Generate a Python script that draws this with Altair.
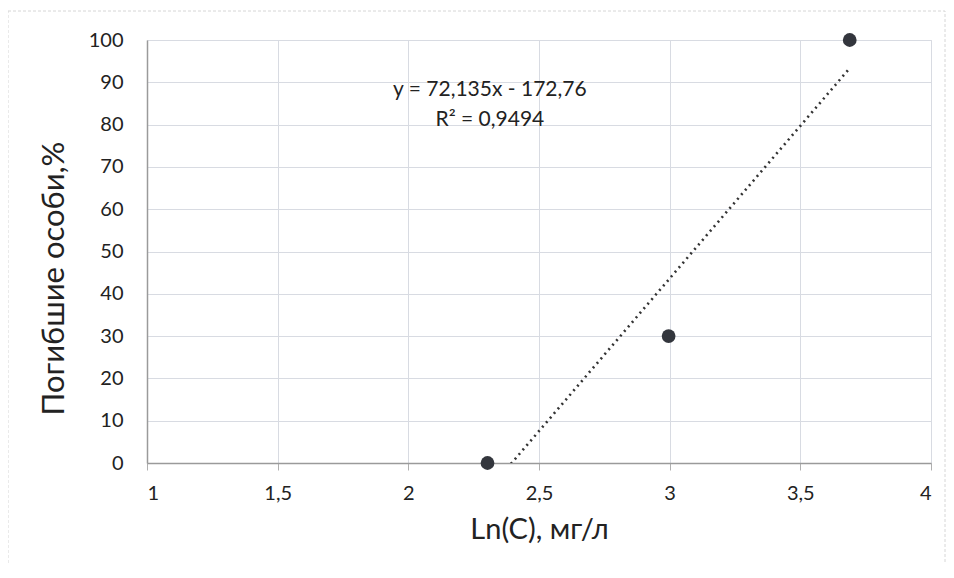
import altair as alt
import pandas as pd

# data
ln_c = [2.303, 2.996, 3.689]
dead_pct = [0, 30, 100]
x_ticks = [1, 1.5, 2, 2.5, 3, 3.5, 4]
y_ticks = [0, 10, 20, 30, 40, 50, 60, 70, 80, 90, 100]
eq_lines = ["y = 72,135x - 172,76", "R² = 0,9494"]
eq_x = [2.312, 2.312]
eq_y = [88.2, 81.1]

FONT = "Lato"
df = pd.DataFrame({"ln_c": ln_c, "dead": dead_pct})
ann = pd.DataFrame({"x": eq_x, "y": eq_y, "t": eq_lines})

W, H = 784, 423

xs = alt.Scale(domain=[1, 4], nice=False, zero=False)
ys = alt.Scale(domain=[0, 100], nice=False)

xaxis = alt.Axis(values=x_ticks, format="~g", labelExpr="replace(datum.label, '.', ',')",
                 title="Ln(C), мг/л", grid=True, gridColor="#d8dbe2",
                 domainColor="#9a9a9a", domainWidth=1.5, tickColor="#b0b0b0", tickSize=7,
                 labelFont=FONT, labelFontSize=20, labelColor="#222", labelPadding=13,
                 titleFont=FONT, titleFontSize=29, titleFontWeight="normal", titleColor="#222",
                 titlePadding=12)
yaxis = alt.Axis(values=y_ticks, title="Погибшие особи,%", grid=True, gridColor="#d8dbe2",
                 domainColor="#9a9a9a", domainWidth=1.5, ticks=False,
                 labelFont=FONT, labelFontSize=20, labelColor="#222", labelPadding=24,
                 titleFont=FONT, titleFontSize=31, titleFontWeight="normal", titleColor="#222",
                 titlePadding=18, titleY=238)

base = alt.Chart(df)

points = base.mark_circle(size=190, color="#33363d", opacity=1).encode(
    x=alt.X("ln_c:Q", scale=xs, axis=xaxis),
    y=alt.Y("dead:Q", scale=ys, axis=yaxis),
)

trend = base.transform_regression("ln_c", "dead", method="linear").mark_line(
    color="#333333", strokeWidth=2.6, strokeDash=[2, 4], clip=True
).encode(x=alt.X("ln_c:Q", scale=xs), y=alt.Y("dead:Q", scale=ys))

text = alt.Chart(ann).mark_text(font=FONT, fontSize=21, color="#222", align="center",
                                baseline="middle").encode(
    x=alt.X("x:Q", scale=xs), y=alt.Y("y:Q", scale=ys), text="t:N")

border = alt.Chart(pd.DataFrame({"a": [0]})).mark_rect(
    fill=None, stroke="#d6d6d6", strokeWidth=1, strokeDash=[3, 2]
).encode(x=alt.value(-139), x2=alt.value(798), y=alt.value(-29), y2=alt.value(540))

chart = alt.layer(border, trend, points, text).properties(
    width=W, height=H,
    autosize=alt.AutoSizeParams(type="none"),
    padding={"left": 139, "top": 32, "right": 15, "bottom": 100},
).configure_view(stroke=None).configure(background="white")

chart.save("out.html", embed_options={"renderer": "svg", "actions": False})
